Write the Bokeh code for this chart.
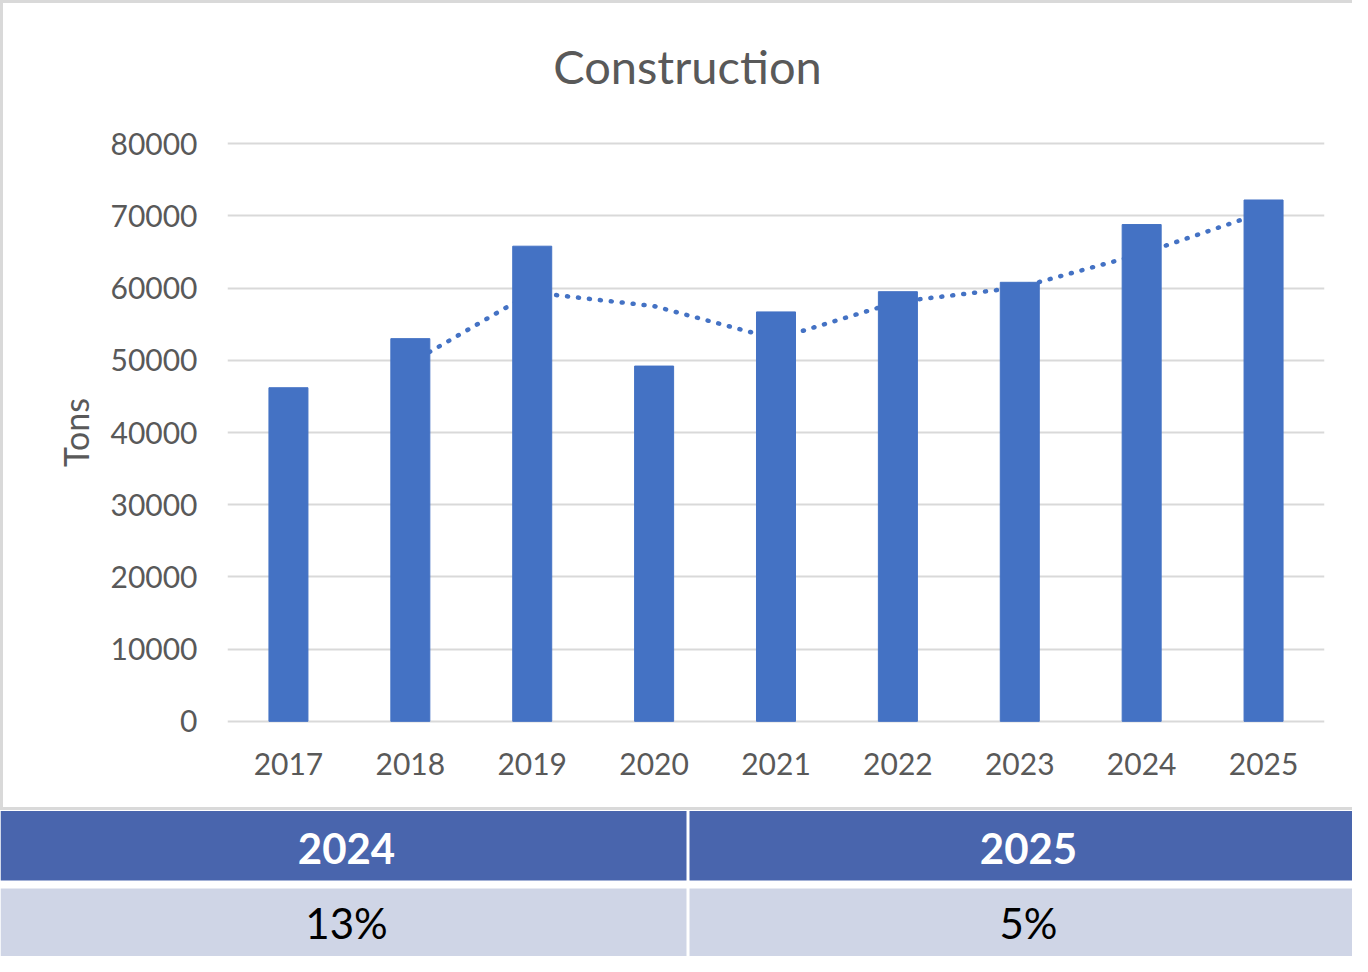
from bokeh.plotting import figure
from bokeh.layouts import column
from bokeh.models import (FactorRange, Range1d, FixedTicker, NumeralTickFormatter,
                          ColumnDataSource)
from bokeh.embed import file_html
from bokeh.resources import INLINE
from bokeh.core.properties import value

# ---------------- data ----------------
years = ["2017", "2018", "2019", "2020", "2021", "2022", "2023", "2024", "2025"]
tons = [46200, 53000, 65800, 49200, 56700, 59500, 60800, 68800, 72200]
trend_years = ["2018", "2019", "2020", "2021", "2022", "2023", "2024", "2025"]
trend_tons = [49600, 59400, 57500, 52950, 58100, 60100, 64750, 70500]
y_ticks = [0, 10000, 20000, 30000, 40000, 50000, 60000, 70000, 80000]
chart_title = "Construction"
y_label = "Tons"
table_years = ["2024", "2025"]
table_growth = ["13%", "5%"]

# ---------------- style ----------------
FONT = "Lato"
GRAY = "#595959"
BLUE = "#4472C4"
GRID = "#d9d9d9"
HEAD = "#4965AD"
ROW = "#CFD5E6"
BORDER = "3px solid #d9d9d9"

W = 1352
H_TITLE = 100
CH = 710
TH = 146


def blank(fig):
    fig.frame_align = False
    fig.axis.visible = False
    fig.grid.visible = False
    fig.outline_line_color = None
    fig.background_fill_color = "white"
    fig.border_fill_color = "white"


# ---------------- title strip ----------------
tf = figure(width=W, height=H_TITLE, x_range=Range1d(0, W), y_range=Range1d(H_TITLE, 0),
            output_backend="svg", toolbar_location=None,
            min_border=0, min_border_left=0, min_border_right=0,
            min_border_top=0, min_border_bottom=0)
blank(tf)
tf.styles = {"border-top": BORDER, "border-left": BORDER, "box-sizing": "border-box"}
tf.text(x=[684], y=[62], text=[chart_title], text_align="center",
        text_baseline="middle", text_font=value(FONT), text_font_size="47px",
        text_color=GRAY)

# ---------------- chart ----------------
p = figure(width=W, height=CH,
           x_range=FactorRange(*years, range_padding=0),
           y_range=Range1d(-300, 80300),
           output_backend="svg", toolbar_location=None,
           min_border_left=224, min_border_right=31,
           min_border_top=41, min_border_bottom=CH - 41 - 582)
p.frame_align = False
p.outline_line_color = None
p.background_fill_color = "white"
p.border_fill_color = "white"
p.styles = {"border-left": BORDER, "border-bottom": BORDER, "box-sizing": "border-box"}

p.yaxis.ticker = FixedTicker(ticks=y_ticks)
p.yaxis.formatter = NumeralTickFormatter(format="0")
for ax in (p.xaxis[0], p.yaxis[0]):
    ax.axis_line_color = None
    ax.major_tick_line_color = None
    ax.minor_tick_line_color = None
    ax.major_label_text_font = FONT
    ax.major_label_text_font_size = "30px"
    ax.major_label_text_color = GRAY
p.yaxis.major_label_standoff = 24
p.xaxis.major_label_standoff = 23
p.yaxis.axis_label = y_label
p.yaxis.axis_label_text_font = FONT
p.yaxis.axis_label_text_font_size = "34px"
p.yaxis.axis_label_text_font_style = "normal"
p.yaxis.axis_label_text_color = GRAY
p.yaxis.axis_label_standoff = 11

p.xgrid.grid_line_color = None
p.ygrid.ticker = FixedTicker(ticks=y_ticks)
p.ygrid.grid_line_color = GRID
p.ygrid.grid_line_width = 2

# trend line (drawn first so bars cover it)
p.line(x=trend_years, y=trend_tons, line_color=BLUE, line_width=4.5,
       line_dash="1 10", line_cap="round")

# bars
src = ColumnDataSource(dict(x=years, top=tons))
p.vbar(x="x", top="top", width=0.32, source=src, fill_color=BLUE, line_color=BLUE)

# ---------------- table ----------------
t = figure(width=W, height=TH, x_range=Range1d(0, W), y_range=Range1d(TH, 0),
           output_backend="svg", toolbar_location=None,
           min_border=0, min_border_left=0, min_border_right=0,
           min_border_top=0, min_border_bottom=0)
blank(t)

cell_left = [0, 689]
cell_right = [686, W]
t.quad(left=cell_left, right=cell_right, top=[0.5, 0.5], bottom=[70, 70],
       fill_color=HEAD, line_color=None)
t.quad(left=cell_left, right=cell_right, top=[78, 78], bottom=[TH, TH],
       fill_color=ROW, line_color=None)
text_x = [346, 1028]
t.text(x=text_x, y=[38, 38], text=table_years, text_align="center",
       text_baseline="middle", text_font=value(FONT), text_font_size="42px",
       text_font_style="bold", text_color="white")
t.text(x=text_x, y=[112, 112], text=table_growth, text_align="center",
       text_baseline="middle", text_font=value(FONT), text_font_size="42px",
       text_color="black")

layout = column(tf, p, t, spacing=0)
open("out.html", "w").write(file_html(layout, INLINE))
